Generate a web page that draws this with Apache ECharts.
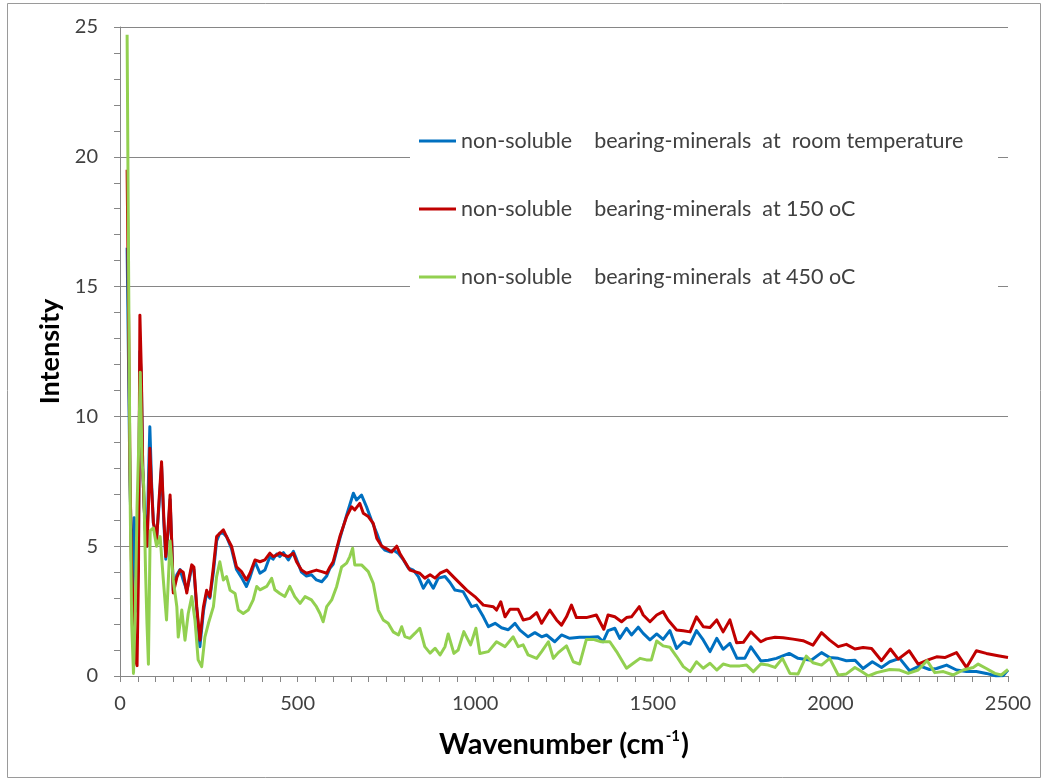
<!DOCTYPE html>
<html>
<head>
<meta charset="utf-8">
<title>Intensity vs Wavenumber</title>
<script src="https://cdn.jsdelivr.net/npm/echarts@6/dist/echarts.min.js"></script>
<style>
  html, body { margin: 0; padding: 0; background: #ffffff; }
  #chart { width: 1042px; height: 782px; }
</style>
</head>
<body>
<div id="chart"></div>
<script>
// Spectra: wavenumber (cm-1) and intensity per sample
const seriesNames = [
  'non-soluble    bearing-minerals  at  room temperature',
  'non-soluble    bearing-minerals  at 150 oC',
  'non-soluble    bearing-minerals  at 450 oC'
];

const roomWavenumber = [20,24,28,32,36,40,44,48,52,56,60,64,68,72,76,80,84,89,94,99,103,110,117,123,129,135,141,146,150,155,160,169,178,188,195,202,208,216,225,235,244,253,263,272,281,291,300,314,328,342,356,366,380,394,408,422,431,441,450,460,474,488,497,511,525,539,553,568,582,591,600,619,638,657,666,680,694,708,723,737,746,760,769,784,798,812,826,840,854,868,882,896,915,929,943,966,990,1004,1023,1037,1056,1074,1093,1112,1126,1149,1168,1187,1201,1224,1243,1266,1294,1322,1346,1360,1374,1393,1407,1426,1440,1459,1473,1492,1511,1529,1548,1567,1586,1605,1623,1642,1661,1680,1698,1717,1737,1759,1776,1804,1825,1848,1884,1909,1946,1975,1998,2022,2045,2069,2092,2118,2144,2167,2195,2223,2251,2279,2299,2327,2355,2383,2411,2439,2467,2486,2500];
const roomIntensity = [16.5,12,7.5,5.0,3.0,6.1,4.7,2.5,5.0,12.5,11.5,8.0,6.5,5.5,5.0,7.5,9.6,7.4,5.9,5.6,5.3,6.6,8.1,6.0,4.5,5.5,6.8,5.0,3.3,3.6,3.9,4.1,3.7,3.3,3.7,4.2,4.1,2.6,1.13,2.5,3.2,3.0,4.0,5.2,5.5,5.5,5.37,4.9,4.1,3.8,3.45,3.8,4.4,3.96,4.08,4.6,4.5,4.7,4.6,4.75,4.47,4.8,4.5,4.0,3.85,3.9,3.7,3.63,3.85,4.15,4.3,5.3,6.2,7.04,6.78,6.97,6.52,6.0,5.5,4.98,4.85,4.78,4.85,4.72,4.47,4.15,4.08,3.83,3.38,3.7,3.38,3.77,3.83,3.6,3.31,3.25,2.67,2.73,2.28,1.9,2.03,1.86,1.78,2.03,1.77,1.51,1.67,1.51,1.58,1.32,1.58,1.45,1.49,1.49,1.51,1.32,1.75,1.84,1.45,1.84,1.58,1.88,1.64,1.39,1.62,1.41,1.75,1.06,1.32,1.23,1.75,1.39,0.94,1.45,1.03,1.26,0.68,0.68,1.12,0.58,0.61,0.68,0.87,0.68,0.61,0.9,0.71,0.68,0.59,0.61,0.29,0.55,0.33,0.55,0.68,0.2,0.39,0.25,0.29,0.42,0.23,0.17,0.17,0.1,0.0,0.01,0.23];

const warmWavenumber = [20,24,28,32,36,40,44,48,52,56,60,64,68,72,76,80,84,89,94,99,103,110,117,123,129,135,141,146,150,155,160,169,178,188,195,202,208,216,225,235,244,253,263,272,281,291,300,314,328,342,356,366,380,394,408,422,431,441,450,460,474,488,497,511,525,539,553,568,582,591,600,619,638,652,661,675,685,699,713,723,737,751,765,779,788,802,816,830,844,858,873,887,901,920,938,957,976,999,1023,1051,1060,1072,1084,1098,1121,1135,1154,1173,1187,1210,1229,1243,1257,1271,1285,1313,1341,1362,1374,1393,1412,1426,1440,1462,1473,1492,1511,1529,1543,1567,1586,1605,1623,1642,1661,1680,1698,1717,1736,1755,1776,1804,1820,1844,1867,1895,1923,1951,1975,1998,2022,2045,2069,2092,2116,2144,2169,2191,2222,2247,2275,2299,2322,2355,2383,2411,2439,2472,2500];
const warmIntensity = [19.5,14,8,4.5,3.0,1.5,0.6,0.4,4.0,13.9,11.8,8.0,6.5,5.5,5.0,6.5,8.77,7.2,5.9,5.6,5.2,6.8,8.25,6.2,4.6,5.6,6.97,5.0,3.2,3.5,3.8,4.08,4.0,3.2,3.8,4.28,4.2,2.67,1.38,2.67,3.3,3.06,4.2,5.37,5.5,5.63,5.37,5.0,4.2,4.02,3.7,3.96,4.47,4.4,4.47,4.73,4.6,4.66,4.75,4.66,4.6,4.73,4.4,4.08,3.96,4.02,4.08,4.02,3.96,4.2,4.4,5.37,6.14,6.52,6.4,6.65,6.27,6.14,5.88,5.3,5.0,4.9,4.78,5.0,4.72,4.4,4.08,4.02,3.96,3.77,3.9,3.77,3.96,4.08,3.83,3.57,3.31,3.06,2.73,2.67,2.54,2.86,2.28,2.57,2.57,2.16,2.22,2.44,2.03,2.54,2.16,1.96,2.28,2.73,2.25,2.25,2.35,1.8,2.35,2.28,2.09,2.25,2.28,2.67,2.35,2.09,2.35,2.48,2.16,1.77,1.74,1.7,2.28,1.9,1.87,2.16,1.7,2.16,1.28,1.3,1.7,1.32,1.43,1.49,1.47,1.42,1.36,1.19,1.67,1.38,1.13,1.22,1.04,1.1,1.06,0.59,1.04,0.65,0.97,0.46,0.62,0.74,0.71,0.9,0.33,0.97,0.87,0.78,0.71];

const hotWavenumber = [20,25,29,33,38,43,48,53,57,62,67,72,76,80,85,94,103,113,122,131,141,150,160,164,174,183,192,202,211,220,230,239,249,263,272,281,291,300,310,324,333,347,361,375,385,394,413,427,436,450,464,478,492,507,521,539,553,563,572,582,596,610,624,638,647,655,661,680,699,713,727,741,755,769,784,793,802,816,830,844,858,873,887,901,915,924,940,952,968,987,1002,1013,1037,1060,1084,1107,1121,1135,1149,1173,1187,1206,1220,1234,1257,1276,1294,1313,1332,1355,1379,1398,1426,1445,1464,1482,1496,1511,1529,1548,1567,1586,1605,1623,1642,1661,1680,1698,1717,1745,1764,1783,1804,1825,1844,1865,1886,1909,1932,1951,1975,1998,2022,2045,2069,2088,2107,2130,2167,2195,2219,2247,2272,2294,2318,2346,2374,2402,2416,2439,2463,2481,2500];
const hotIntensity = [24.7,14,6.3,2.0,0.1,2.5,6.5,9.0,11.7,8.3,7.3,4.0,2.0,0.45,5.6,5.7,5.0,5.37,3.7,2.16,5.2,3.7,2.67,1.5,2.54,1.38,2.4,3.06,2.16,0.62,0.36,1.5,2.03,2.67,3.83,4.4,3.7,3.83,3.3,3.18,2.54,2.41,2.54,2.93,3.45,3.32,3.45,3.76,3.32,3.18,3.06,3.45,3.06,2.8,3.06,2.93,2.67,2.41,2.09,2.67,2.93,3.45,4.2,4.35,4.6,4.92,4.28,4.28,4.02,3.57,2.54,2.16,2.03,1.7,1.58,1.9,1.52,1.45,1.64,1.84,1.13,0.88,1.07,0.81,1.13,1.62,0.87,1.0,1.71,1.2,1.84,0.87,0.94,1.32,1.13,1.51,1.13,1.2,0.81,0.68,0.94,1.32,0.68,0.9,1.16,0.55,0.46,1.41,1.41,1.32,1.32,0.94,0.3,0.49,0.68,0.62,0.62,1.35,1.16,1.11,0.75,0.36,0.17,0.55,0.3,0.49,0.23,0.46,0.39,0.39,0.42,0.17,0.46,0.42,0.33,0.68,0.1,0.08,0.77,0.51,0.42,0.68,0.04,0.08,0.33,0.17,0.0,0.13,0.25,0.23,0.1,0.23,0.59,0.13,0.17,0.04,0.23,0.33,0.46,0.29,0.1,0.04,0.25];

const seriesColors = ['#0070C0', '#C00000', '#92D050'];
const yTicks = { min: 0, max: 25, step: 5 };
const xTicks = { min: 0, max: 2500, step: 500 };

function pairs(xs, ys) {
  return xs.map((x, i) => [x, ys[i]]);
}

const FONT = 'Lato, "Open Sans", sans-serif';
const chart = echarts.init(document.getElementById('chart'), null, { renderer: 'canvas' });

const axisGray = '#868686';

chart.setOption({
  animation: false,
  backgroundColor: '#ffffff',
  grid: { left: 120, right: 34, top: 27, bottom: 106, containLabel: false },
  graphic: [
    {
      type: 'rect', z: 0, silent: true,
      shape: { x: 7.5, y: 3.5, width: 1033, height: 774 },
      style: { fill: 'none', stroke: '#9a9a9a', lineWidth: 1 }
    },
    {
      type: 'rect', z: 1, silent: true,
      shape: { x: 410, y: 118, width: 588, height: 182 },
      style: { fill: '#ffffff' }
    }
  ],
  legend: {
    orient: 'vertical',
    left: 419,
    top: 130,
    padding: 0,
    itemWidth: 37,
    itemHeight: 3,
    itemGap: 46,
    icon: 'rect',
    data: seriesNames,
    textStyle: { fontFamily: FONT, fontSize: 21.5, color: '#404040', lineHeight: 21 }
  },
  xAxis: {
    type: 'value',
    min: xTicks.min,
    max: xTicks.max,
    interval: xTicks.step,
    name: '{b|Wavenumber (cm}{s|-1}{b|)}',
    nameLocation: 'middle',
    nameGap: 53,
    nameTextStyle: {
      rich: {
        b: { fontFamily: FONT, fontSize: 29, fontWeight: 'bold', color: '#000', lineHeight: 32 },
        s: { fontFamily: FONT, fontSize: 15, fontWeight: 'bold', color: '#000', verticalAlign: 'top', lineHeight: 32, padding: [0, 1, 0, 1] }
      }
    },
    axisLine: { lineStyle: { color: axisGray, width: 1 } },
    axisTick: { show: true, inside: false, length: 6, lineStyle: { color: axisGray } },
    minorTick: { show: true, splitNumber: 10, length: 6, lineStyle: { color: axisGray } },
    splitLine: { show: false },
    axisLabel: {
      fontFamily: FONT, fontSize: 20, color: '#404040', margin: 18,
      formatter: v => String(v)
    }
  },
  yAxis: {
    type: 'value',
    min: yTicks.min,
    max: yTicks.max,
    interval: yTicks.step,
    name: 'Intensity',
    nameLocation: 'middle',
    nameGap: 54,
    nameTextStyle: { fontFamily: FONT, fontSize: 27, fontWeight: 'bold', color: '#000' },
    axisLine: { show: true, lineStyle: { color: axisGray, width: 1 } },
    axisTick: { show: true, inside: false, length: 6, lineStyle: { color: axisGray } },
    minorTick: { show: true, splitNumber: 5, length: 6, lineStyle: { color: axisGray } },
    splitLine: { show: true, lineStyle: { color: axisGray, width: 1 } },
    axisLabel: { fontFamily: FONT, fontSize: 20, color: '#404040', margin: 22 }
  },
  series: [
    { name: seriesNames[0], type: 'line', data: pairs(roomWavenumber, roomIntensity), color: seriesColors[0] },
    { name: seriesNames[1], type: 'line', data: pairs(warmWavenumber, warmIntensity), color: seriesColors[1] },
    { name: seriesNames[2], type: 'line', data: pairs(hotWavenumber, hotIntensity), color: seriesColors[2] }
  ].map(s => Object.assign(s, {
    showSymbol: false,
    symbol: 'none',
    z: 3,
    lineStyle: { width: 3, color: s.color, join: 'round' }
  }))
});
</script>
</body>
</html>
